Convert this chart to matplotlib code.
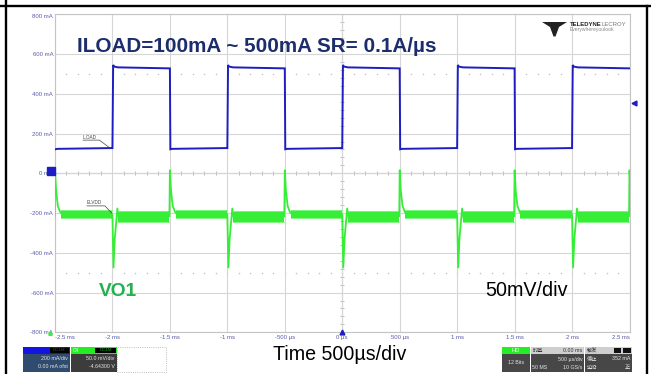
import numpy as np
import matplotlib
matplotlib.use("Agg")
import matplotlib.pyplot as plt
from matplotlib.patches import Rectangle, Polygon
from matplotlib.lines import Line2D
import matplotlib.transforms as mtransforms

plt.rcParams['font.family'] = ['Liberation Sans', 'Noto Sans CJK SC', 'DejaVu Sans']

# ---------------- data ----------------
time_ticks_ms = [-2.5, -2.0, -1.5, -1.0, -0.5, 0.0, 0.5, 1.0, 1.5, 2.0, 2.5]
time_tick_labels = ['-2.5 ms', '-2 ms', '-1.5 ms', '-1 ms', '-500 µs', '0 µs',
                    '500 µs', '1 ms', '1.5 ms', '2 ms', '2.5 ms']
level_ticks = [-800, -600, -400, -200, 0, 200, 400, 600, 800]
level_tick_labels = ['-800 mA', '-600 mA', '-400 mA', '-200 mA', '0 mA',
                     '200 mA', '400 mA', '600 mA', '800 mA']

load_rise_ms = [-2.0, -1.0, 0.0, 1.0, 2.0]
load_fall_ms = [-2.5, -1.5, -0.5, 0.5, 1.5, 2.5]

# ILOAD (blue) shape after each rise / fall
iload_high_dt = [0.000, 0.006, 0.015, 0.050, 0.497]
iload_high_ma = [127, 545, 537, 533, 528]
iload_low_dt = [0.000, 0.004, 0.020, 0.497]
iload_low_ma = [528, 121, 123, 127]

# ELVDD / VO1 (green) transients, shown on the mA grid
elvdd_rise_dt = [-0.003, 0.000, 0.009, 0.020, 0.043, 0.056]
elvdd_rise_lvl = [-205, -212, -474, -330, -177, -225]
elvdd_fall_dt = [-0.004, 0.000, 0.010, 0.025, 0.045, 0.060]
elvdd_fall_lvl = [-216, 15, -90, -165, -195, -203]
elvdd_light_band = [-225, -184]   # noise envelope, light load
elvdd_heavy_band = [-244, -188]   # noise envelope, heavy load

trigger_level_ma = 352
dotted_levels = [500, -500]

# ---------------- figure ----------------
W, H = 651, 374
fig = plt.figure(figsize=(W / 100, H / 100), dpi=100)
fig.patch.set_facecolor('white')


def fx(x):
    return x / W


def fy(y):
    return 1 - y / H


ax_l, ax_r, ax_t, ax_b = 55, 629.5, 14.3, 332.3
ax = fig.add_axes([fx(ax_l), fy(ax_b), fx(ax_r) - fx(ax_l), fy(ax_t) - fy(ax_b)])
ax.set_xlim(-2.5, 2.5)
ax.set_ylim(-800, 800)
ax.set_facecolor('white')

tick_color = '#5a5aaa'
ax.set_xticks(time_ticks_ms)
ax.set_xticklabels(time_tick_labels)
ax.set_yticks(level_ticks)
ax.set_yticklabels(level_tick_labels)
ax.tick_params(axis='both', length=0, labelsize=4.3, labelcolor=tick_color)
ax.tick_params(axis='x', pad=2.2)
ax.tick_params(axis='y', pad=1.3)
xl = ax.get_xticklabels()
xl[0].set_ha('left')
xl[-1].set_ha('right')
yl = ax.get_yticklabels()
yl[-1].set_va('top')

ax.grid(True, color='#d6d6d6', lw=0.8, zorder=0)
for s in ax.spines.values():
    s.set_color('#c4c4c4')
    s.set_linewidth(0.8)

# centre axes with small ticks
ax.axhline(0, color='#b8b8b8', lw=0.8, zorder=1)
ax.axvline(0, color='#b8b8b8', lw=0.8, zorder=1)
ax.plot(np.arange(-2.5, 2.5001, 0.1), np.zeros(51), ls='none', marker='|',
        ms=3.2, mew=0.6, color='#b0b0b0', zorder=1)
ax.plot(np.zeros(41), np.arange(-800, 800.1, 40), ls='none', marker='_',
        ms=3.2, mew=0.6, color='#b0b0b0', zorder=1)
for lv in dotted_levels:
    ax.plot(np.arange(-2.4, 2.45, 0.1), np.full(49, lv), ls='none', marker='o',
            ms=1.1, mew=0, color='#c4c4c4', zorder=1)

# ---------------- ILOAD trace ----------------
events = sorted([(t, 'fall') for t in load_fall_ms] + [(t, 'rise') for t in load_rise_ms])
bt, by = [], []
for t0, kind in events:
    dts, vals = (iload_high_dt, iload_high_ma) if kind == 'rise' else (iload_low_dt, iload_low_ma)
    for dt, v in zip(dts, vals):
        tt = t0 + dt
        if -2.5 < tt < 2.5:
            bt.append(tt)
            by.append(v)
ax.plot(bt, by, color='#1e1ec0', lw=1.4, zorder=4, solid_joinstyle='miter')

# ---------------- ELVDD trace ----------------
green = '#35ee35'
green_edge = '#80f580'
for t0, kind in events:
    if kind == 'rise':
        dts, vals = elvdd_rise_dt, elvdd_rise_lvl
        band = elvdd_heavy_band
        b_start = t0 + elvdd_rise_dt[-1] - 0.006
        nxt = [f for f in load_fall_ms if f > t0]
        b_end = (nxt[0] + elvdd_fall_dt[0]) if nxt else 2.5
    else:
        dts, vals = elvdd_fall_dt, elvdd_fall_lvl
        band = elvdd_light_band
        b_start = t0 + elvdd_fall_dt[-1] - 0.01
        nxt = [r for r in load_rise_ms if r > t0]
        b_end = (nxt[0] + elvdd_rise_dt[0]) if nxt else 2.5
    ax.plot([t0 + d for d in dts], vals, color=green, lw=1.3, zorder=3)
    if b_start < 2.5:
        xs = [max(b_start, -2.5), min(b_end, 2.5)]
        ax.fill_between(xs, band[0], band[1], color=green, lw=0, zorder=3)
        ax.plot(xs, [band[0]] * 2, color=green_edge, lw=0.7, zorder=3)
        ax.plot(xs, [band[1]] * 2, color=green_edge, lw=0.7, zorder=3)

# ---------------- markers ----------------
blue = '#1e1ec0'
off_r = mtransforms.offset_copy(ax.transData, fig=fig, x=4, y=0, units='dots')
ax.plot([2.5], [trigger_level_ma], marker='<', ms=3.5, color=blue, transform=off_r,
        clip_on=False, zorder=6)
ax.plot([0], [-800], marker='^', ms=3.5, color=blue, clip_on=False, zorder=6)
off_l = mtransforms.offset_copy(ax.transData, fig=fig, x=-4, y=2, units='dots')
ax.plot([-2.5], [0], marker='s', ms=6, color=blue, transform=off_l,
        clip_on=False, zorder=6)
off_g = mtransforms.offset_copy(ax.transData, fig=fig, x=-5, y=-1, units='dots')
ax.plot([-2.5], [-800], marker='^', ms=2.5, color=green, transform=off_g,
        clip_on=False, zorder=6)

# trace labels
lab_c = '#444444'
ax.text(-2.256, 181, 'ILOAD', fontsize=3.3, color=lab_c, va='center', ha='left', zorder=7)
ax.plot([-2.256, -2.114, -2.021], [167, 167, 127], color=lab_c, lw=0.5, zorder=7)
ax.text(-2.221, -146, 'ELVDD', fontsize=3.3, color=lab_c, va='center', ha='left', zorder=7)
ax.plot([-2.221, -2.065, -2.007], [-164, -164, -200], color=lab_c, lw=0.5, zorder=7)

# ---------------- annotation texts ----------------
fig.text(fx(77), fy(47), 'ILOAD=100mA ~ 500mA SR= 0.1A/µs', fontsize=14.9,
         fontweight='bold', color='#1b2d6c', ha='left', va='center')
fig.text(fx(99), fy(291), 'VO1', fontsize=13.8, fontweight='bold',
         color='#22b14c', ha='left', va='center')
fig.text(fx(485), fy(291), '50mV/div', fontsize=14.2, color='black',
         ha='left', va='center')
fig.text(fx(273), fy(355), 'Time 500µs/div', fontsize=14.1, color='black',
         ha='left', va='center')

# logo
fig.add_artist(Polygon([(fx(542), fy(22)), (fx(567), fy(22)), (fx(559), fy(27)),
                        (fx(555.5), fy(36.5)), (fx(553.5), fy(36.5)), (fx(550), fy(27))],
                       closed=True, transform=fig.transFigure, fc='#222222', ec='none'))
fig.text(fx(570), fy(24.3), 'TELEDYNE', fontsize=4.3, fontweight='bold',
         color='#222222', ha='left', va='center')
fig.text(fx(601), fy(24.3), 'LECROY', fontsize=4.3, color='#777777',
         ha='left', va='center')
fig.text(fx(570), fy(29.2), 'Everywhereyoulook', fontsize=3.6, color='#888888',
         ha='left', va='center')


# ---------------- info boxes ----------------
def frect(x0, y0, x1, y1, **kw):
    fig.add_artist(Rectangle((fx(x0), fy(y1)), fx(x1) - fx(x0), fy(y0) - fy(y1),
                             transform=fig.transFigure, **kw))


def ftext(x, y, s, ha='left', color='#e6e6e6', size=3.8, **kw):
    fig.text(fx(x), fy(y), s, fontsize=size, color=color, ha=ha, va='center', **kw)


# C1
frect(22.7, 346.7, 70, 354, fc='#1414e0', ec='none')
frect(50, 347.6, 68.5, 353.2, fc='black', ec='none')
ftext(59.2, 350.4, 'DC1M', ha='center', color='#444444', size=3.2)
frect(22.7, 354, 70, 371.7, fc='#2f4b6e', ec='none')
ftext(68, 358.6, '200 mA/div', ha='right')
ftext(68, 366.6, '0.00 mA ofst', ha='right')
# C4
frect(70.7, 346.7, 116.7, 354, fc='#22ee22', ec='none')
ftext(73, 350.4, 'C4', color='#f0fff0', size=3.5)
frect(95, 347.6, 116, 353.2, fc='black', ec='none')
ftext(105.5, 350.4, 'DC1M', ha='center', color='#22aa22', size=3.2)
frect(70.7, 354, 116.7, 371.7, fc='#3c3c3c', ec='none')
ftext(114.5, 358.6, '50.0 mV/div', ha='right')
ftext(114.5, 366.6, '-4.64300 V', ha='right')
frect(117.5, 346.9, 165.7, 371.5, fc='none', ec='#a8a8a8', ls=':', lw=0.6)

# right boxes
frect(501.7, 347, 530, 354, fc='#22ee22', ec='none')
ftext(515.9, 350.5, 'HD', ha='center', color='white', size=4)
frect(501.7, 354, 530, 372, fc='#474747', ec='none')
ftext(515.9, 363, '12 Bits', ha='center')

frect(530.7, 347, 584, 354, fc='#cfcfcf', ec='none')
ftext(532.5, 350.5, '时基', color='#333333', size=3.8)
ftext(582.5, 350.5, '0.00 ms', ha='right', color='#333333')
frect(530.7, 354, 584, 372, fc='#474747', ec='none')
ftext(582.5, 359, '500 µs/div', ha='right')
ftext(532.5, 367.5, '50 MS')
ftext(582.5, 367.5, '10 GS/s', ha='right')

frect(585, 347, 631.7, 354, fc='#cfcfcf', ec='none')
ftext(587, 350.5, '触发', color='#333333', size=3.8)
frect(613.5, 347.8, 621, 353.4, fc='#111111', ec='none')
frect(622.5, 347.8, 630.7, 353.4, fc='#111111', ec='none')
frect(585, 354, 631.7, 372, fc='#474747', ec='none')
ftext(587, 359, '停止', size=3.8)
ftext(630, 359, '352 mA', ha='right')
ftext(587, 367.5, '边沿', size=3.8)
ftext(630, 367.5, '正', ha='right', size=3.8)

# ---------------- outer frame ----------------
fig.add_artist(Line2D([0, 1], [fy(6.2), fy(6.2)], color='black', lw=1.7,
                      transform=fig.transFigure))
fig.add_artist(Line2D([fx(6.2), fx(6.2)], [0, 1], color='black', lw=1.7,
                      transform=fig.transFigure))
fig.add_artist(Line2D([fx(647.3), fx(647.3)], [0, fy(6.2)], color='black', lw=1.7,
                      transform=fig.transFigure))

fig.savefig('out.png', dpi=100, facecolor='white')
